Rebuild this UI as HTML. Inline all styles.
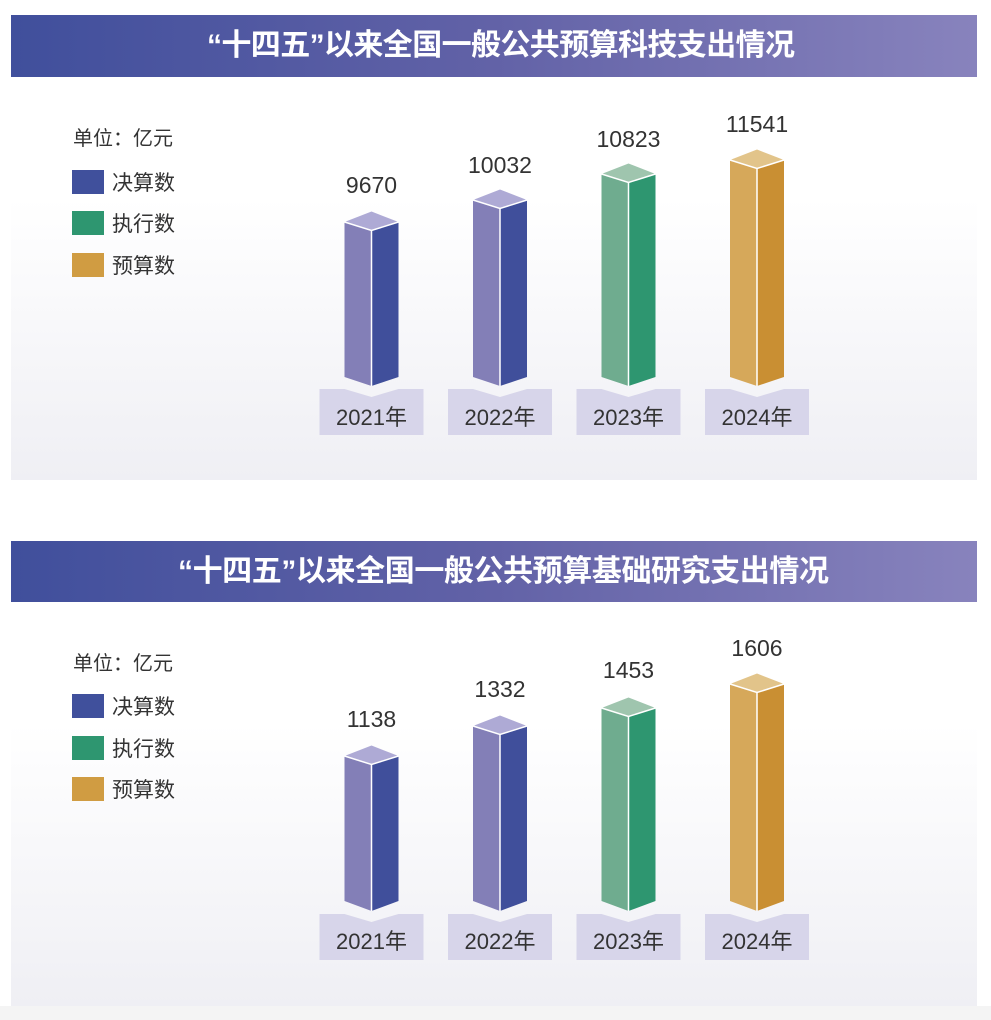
<!DOCTYPE html>
<html><head><meta charset="utf-8"><style>
html,body{margin:0;padding:0;background:#fff;}
svg{display:block;}
text{font-family:"Liberation Sans","Noto Sans CJK SC",sans-serif;}
</style></head><body>
<svg width="991" height="1020" viewBox="0 0 991 1020" xmlns="http://www.w3.org/2000/svg">
<defs>
<linearGradient id="hd" x1="0" y1="0" x2="1" y2="0">
<stop offset="0" stop-color="#404f9c"/><stop offset="0.5" stop-color="#6262a7"/><stop offset="1" stop-color="#8883bd"/>
</linearGradient>
<linearGradient id="bd" x1="0" y1="0" x2="0" y2="1">
<stop offset="0" stop-color="#ffffff"/><stop offset="0.3" stop-color="#ffffff"/><stop offset="1" stop-color="#efeff4"/>
</linearGradient>
</defs>
<rect x="0" y="0" width="991" height="1020" fill="#ffffff"/>
<rect x="0" y="1006" width="991" height="14" fill="#f4f4f4"/>

<!-- Panel 1 -->
<rect x="11" y="77" width="966" height="403" fill="url(#bd)"/>
<rect x="11" y="15" width="966" height="62" fill="url(#hd)"/>
<text x="207" y="55" font-size="30" font-weight="bold" fill="#fff" textLength="588">“十四五”以来全国一般公共预算科技支出情况</text>

<text x="73" y="145" font-size="20" fill="#333">单位：亿元</text>
<rect x="72" y="170" width="32" height="24" fill="#40509c"/>
<text x="112" y="190" font-size="21" fill="#333">决算数</text>
<rect x="72" y="211" width="32" height="24" fill="#2e9670"/>
<text x="112" y="231" font-size="21" fill="#333">执行数</text>
<rect x="72" y="253" width="32" height="24" fill="#d09c42"/>
<text x="112" y="273" font-size="21" fill="#333">预算数</text>

<!-- boxes p1 -->
<g fill="#d7d5ea">
<polygon points="319.5,389 344.5,389 371.5,397 398.5,389 423.5,389 423.5,435 319.5,435"/>
<polygon points="448,389 473,389 500,397 527,389 552,389 552,435 448,435"/>
<polygon points="576.5,389 601.5,389 628.5,397 655.5,389 680.5,389 680.5,435 576.5,435"/>
<polygon points="705,389 730,389 757,397 784,389 809,389 809,435 705,435"/>
</g>
<g font-size="22" fill="#333" text-anchor="middle">
<text x="371.5" y="425">2021年</text>
<text x="500" y="425">2022年</text>
<text x="628.5" y="425">2023年</text>
<text x="757" y="425">2024年</text>
</g>

<!-- bars p1 -->
<polygon points="344.5,222 371.5,230.5 371.5,386 344.5,377" fill="#837fb7"/>
<polygon points="371.5,230.5 398.5,222 398.5,377 371.5,386" fill="#404f9b"/>
<polygon points="344.5,222 371.5,211.5 398.5,222 371.5,230.5" fill="#aeaad5"/>
<polyline points="344.5,222 371.5,230.5 398.5,222" fill="none" stroke="#fff" stroke-width="1.5"/>
<line x1="371.5" y1="230.5" x2="371.5" y2="386" stroke="#fff" stroke-width="1.5"/>

<polygon points="473,200 500,208.5 500,386 473,377" fill="#837fb7"/>
<polygon points="500,208.5 527,200 527,377 500,386" fill="#404f9b"/>
<polygon points="473,200 500,189.5 527,200 500,208.5" fill="#aeaad5"/>
<polyline points="473,200 500,208.5 527,200" fill="none" stroke="#fff" stroke-width="1.5"/>
<line x1="500" y1="208.5" x2="500" y2="386" stroke="#fff" stroke-width="1.5"/>

<polygon points="601.5,174 628.5,182.5 628.5,386 601.5,377" fill="#6fac8f"/>
<polygon points="628.5,182.5 655.5,174 655.5,377 628.5,386" fill="#2e9670"/>
<polygon points="601.5,174 628.5,163.5 655.5,174 628.5,182.5" fill="#9fc5ae"/>
<polyline points="601.5,174 628.5,182.5 655.5,174" fill="none" stroke="#fff" stroke-width="1.5"/>
<line x1="628.5" y1="182.5" x2="628.5" y2="386" stroke="#fff" stroke-width="1.5"/>

<polygon points="730,160 757,168.5 757,386 730,377" fill="#d6a85a"/>
<polygon points="757,168.5 784,160 784,377 757,386" fill="#c98f33"/>
<polygon points="730,160 757,149.5 784,160 757,168.5" fill="#e2c48a"/>
<polyline points="730,160 757,168.5 784,160" fill="none" stroke="#fff" stroke-width="1.5"/>
<line x1="757" y1="168.5" x2="757" y2="386" stroke="#fff" stroke-width="1.5"/>

<g font-size="23" fill="#333" text-anchor="middle">
<text x="371.5" y="193">9670</text>
<text x="500" y="173">10032</text>
<text x="628.5" y="147">10823</text>
<text x="757" y="132">11541</text>
</g>

<!-- Panel 2 -->
<rect x="11" y="602" width="966" height="404" fill="url(#bd)"/>
<rect x="11" y="541" width="966" height="61" fill="url(#hd)"/>
<text x="178" y="581" font-size="30" font-weight="bold" fill="#fff" textLength="651">“十四五”以来全国一般公共预算基础研究支出情况</text>

<text x="73" y="670" font-size="20" fill="#333">单位：亿元</text>
<rect x="72" y="694" width="32" height="24" fill="#40509c"/>
<text x="112" y="714" font-size="21" fill="#333">决算数</text>
<rect x="72" y="736" width="32" height="24" fill="#2e9670"/>
<text x="112" y="756" font-size="21" fill="#333">执行数</text>
<rect x="72" y="777" width="32" height="24" fill="#d09c42"/>
<text x="112" y="797" font-size="21" fill="#333">预算数</text>

<g fill="#d7d5ea">
<polygon points="319.5,914 344.5,914 371.5,922 398.5,914 423.5,914 423.5,960 319.5,960"/>
<polygon points="448,914 473,914 500,922 527,914 552,914 552,960 448,960"/>
<polygon points="576.5,914 601.5,914 628.5,922 655.5,914 680.5,914 680.5,960 576.5,960"/>
<polygon points="705,914 730,914 757,922 784,914 809,914 809,960 705,960"/>
</g>
<g font-size="22" fill="#333" text-anchor="middle">
<text x="371.5" y="949">2021年</text>
<text x="500" y="949">2022年</text>
<text x="628.5" y="949">2023年</text>
<text x="757" y="949">2024年</text>
</g>

<polygon points="344.5,756 371.5,764.5 371.5,911 344.5,901" fill="#837fb7"/>
<polygon points="371.5,764.5 398.5,756 398.5,901 371.5,911" fill="#404f9b"/>
<polygon points="344.5,756 371.5,745.5 398.5,756 371.5,764.5" fill="#aeaad5"/>
<polyline points="344.5,756 371.5,764.5 398.5,756" fill="none" stroke="#fff" stroke-width="1.5"/>
<line x1="371.5" y1="764.5" x2="371.5" y2="911" stroke="#fff" stroke-width="1.5"/>

<polygon points="473,726 500,734.5 500,911 473,901" fill="#837fb7"/>
<polygon points="500,734.5 527,726 527,901 500,911" fill="#404f9b"/>
<polygon points="473,726 500,715.5 527,726 500,734.5" fill="#aeaad5"/>
<polyline points="473,726 500,734.5 527,726" fill="none" stroke="#fff" stroke-width="1.5"/>
<line x1="500" y1="734.5" x2="500" y2="911" stroke="#fff" stroke-width="1.5"/>

<polygon points="601.5,708 628.5,716.5 628.5,911 601.5,901" fill="#6fac8f"/>
<polygon points="628.5,716.5 655.5,708 655.5,901 628.5,911" fill="#2e9670"/>
<polygon points="601.5,708 628.5,697.5 655.5,708 628.5,716.5" fill="#9fc5ae"/>
<polyline points="601.5,708 628.5,716.5 655.5,708" fill="none" stroke="#fff" stroke-width="1.5"/>
<line x1="628.5" y1="716.5" x2="628.5" y2="911" stroke="#fff" stroke-width="1.5"/>

<polygon points="730,684 757,692.5 757,911 730,901" fill="#d6a85a"/>
<polygon points="757,692.5 784,684 784,901 757,911" fill="#c98f33"/>
<polygon points="730,684 757,673.5 784,684 757,692.5" fill="#e2c48a"/>
<polyline points="730,684 757,692.5 784,684" fill="none" stroke="#fff" stroke-width="1.5"/>
<line x1="757" y1="692.5" x2="757" y2="911" stroke="#fff" stroke-width="1.5"/>

<g font-size="23" fill="#333" text-anchor="middle">
<text x="371.5" y="727">1138</text>
<text x="500" y="697">1332</text>
<text x="628.5" y="678">1453</text>
<text x="757" y="656">1606</text>
</g>
</svg>
</body></html>
